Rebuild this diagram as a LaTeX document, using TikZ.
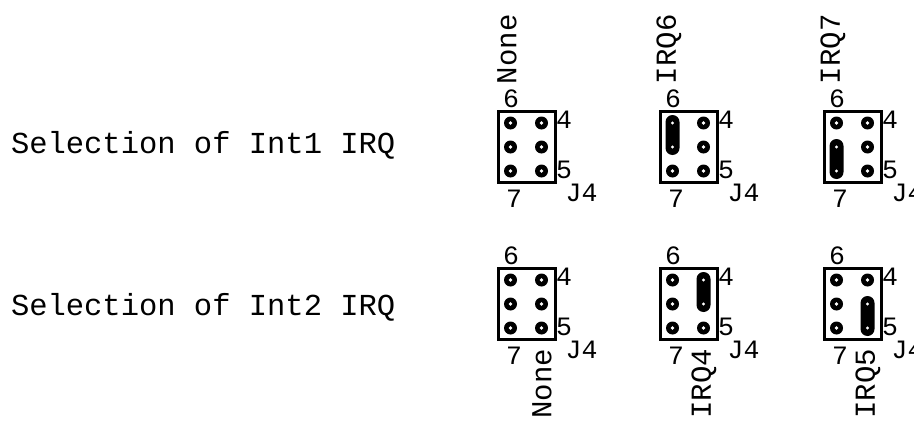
\documentclass[tikz,border=0pt]{standalone}
\usepackage{fontspec}
\setmonofont{Liberation Mono}
\usetikzlibrary{calc}
\tikzset{
  every node/.style={inner sep=0pt, outer sep=0pt},
  title/.style={font=\ttfamily\fontsize{30.5}{30.5}\selectfont, anchor=base west},
  vlabel/.style={font=\ttfamily\fontsize{29}{29}\selectfont, rotate=90},
  plabel/.style={font=\ttfamily\fontsize{26.5}{26.5}\selectfont},
  header/.style={draw, line width=3pt, minimum width=57pt, minimum height=71pt},
  pin/.style={circle, fill=black, minimum size=13pt},
  hole/.style={circle, fill=white, minimum size=3.6pt},
  jumper/.style={rounded corners=7pt, fill=black, minimum width=14pt, minimum height=40pt},
}
\newcommand\jhdr[3]{% name, cx, cy
  \node[header] (#1) at (#2,#3) {};
  \foreach \cc/\dx in {a/-16,b/15} {
    \foreach \rr/\dy in {1/-24,2/0,3/24} {
      \node[pin] (#1-\cc\rr) at (#2+\dx,#3+\dy) {};
      \node[hole] (#1-\cc\rr h) at (#1-\cc\rr) {};
    }
  }
  \node[plabel] (#1-l6) at (#2-15.5,#3-48) {6};
  \node[plabel] (#1-l4) at (#2+37.5,#3-27) {4};
  \node[plabel] (#1-l5) at (#2+37.5,#3+23) {5};
  \node[plabel] (#1-lj) at (#2+55,#3+46) {J4};
  \node[plabel] (#1-l7) at (#2-12.5,#3+52) {7};
}
\newcommand\jmpr[3]{% name, pin1, pin2
  \node[jumper] (#1-jmp) at ($(#2)!0.5!(#3)$) {};
  \node[hole, minimum size=3.2pt] (#1-jh1) at (#2) {};
  \node[hole, minimum size=3.2pt] (#1-jh2) at (#3) {};
}
\begin{document}
\begin{tikzpicture}[x=1pt, y=-1pt]
\useasboundingbox (0,0) rectangle (914,423);
\clip (0,0) rectangle (914,423);

\node[title] (t1) at (11,153) {Selection of Int1 IRQ};
\node[title] (t2) at (11,315) {Selection of Int2 IRQ};

% top row
\jhdr{A}{526.5}{147}
\jhdr{B}{688.5}{147}
\jhdr{C}{852.5}{147}
\jmpr{B}{B-a1}{B-a2}
\jmpr{C}{C-a2}{C-a3}
\node[vlabel, anchor=west] (A-v) at (526.5-19.5,147-63) {None};
\node[vlabel, anchor=west] (B-v) at (688.5-19.5,147-63) {IRQ6};
\node[vlabel, anchor=west] (C-v) at (852.5-19.5,147-63) {IRQ7};

% bottom row
\jhdr{D}{526.5}{304}
\jhdr{E}{688.5}{304}
\jhdr{F}{852.5}{304}
\jmpr{E}{E-b1}{E-b2}
\jmpr{F}{F-b2}{F-b3}
\node[vlabel, anchor=east] (D-v) at (526.5+15.5,304+45) {None};
\node[vlabel, anchor=east] (E-v) at (688.5+15.5,304+45) {IRQ4};
\node[vlabel, anchor=east] (F-v) at (852.5+15.5,304+45) {IRQ5};
\end{tikzpicture}
\end{document}
